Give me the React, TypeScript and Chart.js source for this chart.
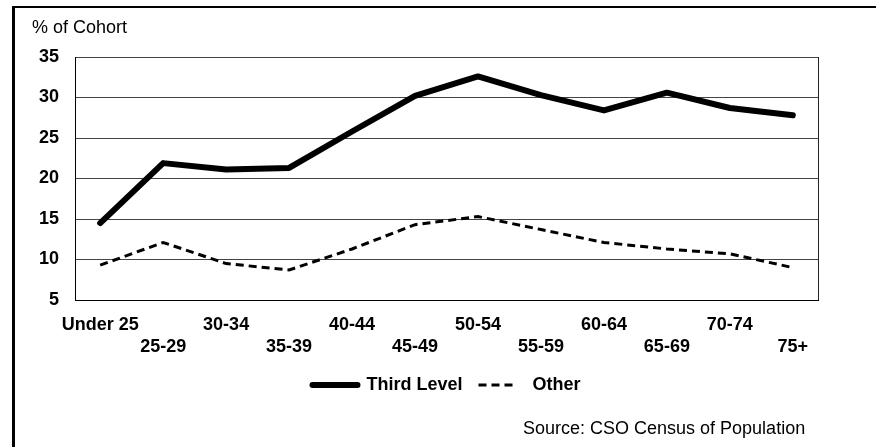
import React, { useEffect, useRef } from "react";
import { Chart, registerables } from "chart.js";

Chart.register(...registerables);

const categories = ["Under 25", "25-29", "30-34", "35-39", "40-44", "45-49", "50-54", "55-59", "60-64", "65-69", "70-74", "75+"];
const thirdLevel = [14.5, 21.9, 21.1, 21.3, 25.8, 30.2, 32.6, 30.3, 28.4, 30.6, 28.7, 27.8];
const other = [9.3, 12.1, 9.5, 8.7, 11.3, 14.3, 15.3, 13.7, 12.1, 11.3, 10.7, 9.0];
const yTicks = [5, 10, 15, 20, 25, 30, 35];

const FONT = "'Liberation Sans', Arial, Helvetica, sans-serif";

const framePlugin = {
  id: "frame",
  beforeDatasetsDraw(chart: any) {
    const { ctx, chartArea } = chart;
    ctx.save();
    ctx.strokeStyle = "#222";
    ctx.lineWidth = 1;
    ctx.beginPath();
    ctx.moveTo(Math.round(chartArea.right) + 0.5, chartArea.top);
    ctx.lineTo(Math.round(chartArea.right) + 0.5, chartArea.bottom);
    ctx.stroke();
    ctx.restore();
  },
};

export default function App() {
  const ref = useRef<HTMLCanvasElement | null>(null);

  useEffect(() => {
    if (!ref.current) return;
    Chart.defaults.font.family = FONT;
    const chart = new Chart(ref.current, {
      type: "line",
      data: {
        datasets: [
          {
            label: "Third Level",
            data: thirdLevel.map((v, i) => ({ x: i, y: v })),
            borderColor: "#000",
            backgroundColor: "#000",
            borderWidth: 6,
            borderCapStyle: "round",
            borderJoinStyle: "round",
            pointRadius: 0,
            tension: 0,
          },
          {
            label: "Other",
            data: other.map((v, i) => ({ x: i, y: v })),
            borderColor: "#000",
            backgroundColor: "#000",
            borderWidth: 3,
            borderDash: [8, 5],
            pointRadius: 0,
            tension: 0,
          },
        ],
      },
      options: {
        animation: false,
        responsive: false,
        maintainAspectRatio: false,
        layout: { padding: { left: 12, top: 57, right: 58, bottom: 43 } },
        plugins: {
          tooltip: { enabled: false },
          legend: {
            position: "bottom",
            fullSize: false,
            labels: {
              usePointStyle: true,
              pointStyle: "line",
              pointStyleWidth: 45,
              padding: 16,
              color: "#000",
              font: { size: 18, weight: "bold", family: FONT },
              generateLabels: (c: any) => {
                const items = (Chart.defaults as any).plugins.legend.labels.generateLabels(c);
                items.forEach((it: any, i: number) => {
                  const ds = c.data.datasets[i];
                  it.lineWidth = ds.borderWidth;
                  it.lineDash = ds.borderDash ? [8, 5, 8, 5, 8, 30] : [];
                  it.lineCap = ds.borderDash ? "butt" : "round";
                  it.strokeStyle = "#000";
                  it.pointStyle = "line";
                });
                return items;
              },
            },
          },
        },
        scales: {
          x: {
            type: "linear",
            min: -0.4,
            max: 11.4,
            afterBuildTicks: (scale: any) => {
              scale.ticks = categories.map((_, i) => ({ value: i }));
            },
            afterFit: (scale: any) => {
              scale.height = 60;
            },
            grid: { display: false, drawTicks: false, tickLength: 0 },
            border: { display: true, color: "#000", width: 1 },
            ticks: {
              padding: 14,
              maxRotation: 0,
              autoSkip: false,
              color: "#000",
              font: { size: 18, weight: "bold", family: FONT, lineHeight: 1.22 },
              callback: (v: any) => {
                const i = Math.round(Number(v));
                const lbl = categories[i] ?? "";
                return i % 2 === 1 ? ["", lbl] : lbl;
              },
            },
          },
          y: {
            min: 5,
            max: 35,
            afterBuildTicks: (scale: any) => {
              scale.ticks = yTicks.map((v) => ({ value: v }));
            },
            afterFit: (scale: any) => {
              scale.width = 63;
            },
            grid: { color: "#444", lineWidth: 1, drawTicks: false, tickLength: 0 },
            border: { display: true, color: "#000", width: 1 },
            ticks: {
              padding: 16,
              color: "#000",
              font: { size: 18, weight: "bold", family: FONT },
            },
          },
        },
      },
      plugins: [framePlugin],
    } as any);
    return () => chart.destroy();
  }, []);

  return (
    <div style={{ position: "fixed", left: 0, top: 0, width: 876, height: 447, background: "#fff", overflow: "hidden", fontFamily: FONT }}>
      <div
        style={{
          position: "absolute",
          left: 12,
          top: 6,
          width: 900,
          height: 500,
          borderLeft: "3px solid #000",
          borderTop: "2px solid #000",
        }}
      />
      <canvas ref={ref} width={876} height={447} style={{ position: "absolute", left: 0, top: 0, width: 876, height: 447 }} />
      <div style={{ position: "absolute", left: 32, top: 16, fontSize: 18, color: "#000", lineHeight: "22px", whiteSpace: "nowrap" }}>% of Cohort</div>
      <div style={{ position: "absolute", left: 523, top: 417, fontSize: 18, color: "#000", lineHeight: "22px", whiteSpace: "nowrap" }}>
        Source: CSO Census of Population
      </div>
    </div>
  );
}
